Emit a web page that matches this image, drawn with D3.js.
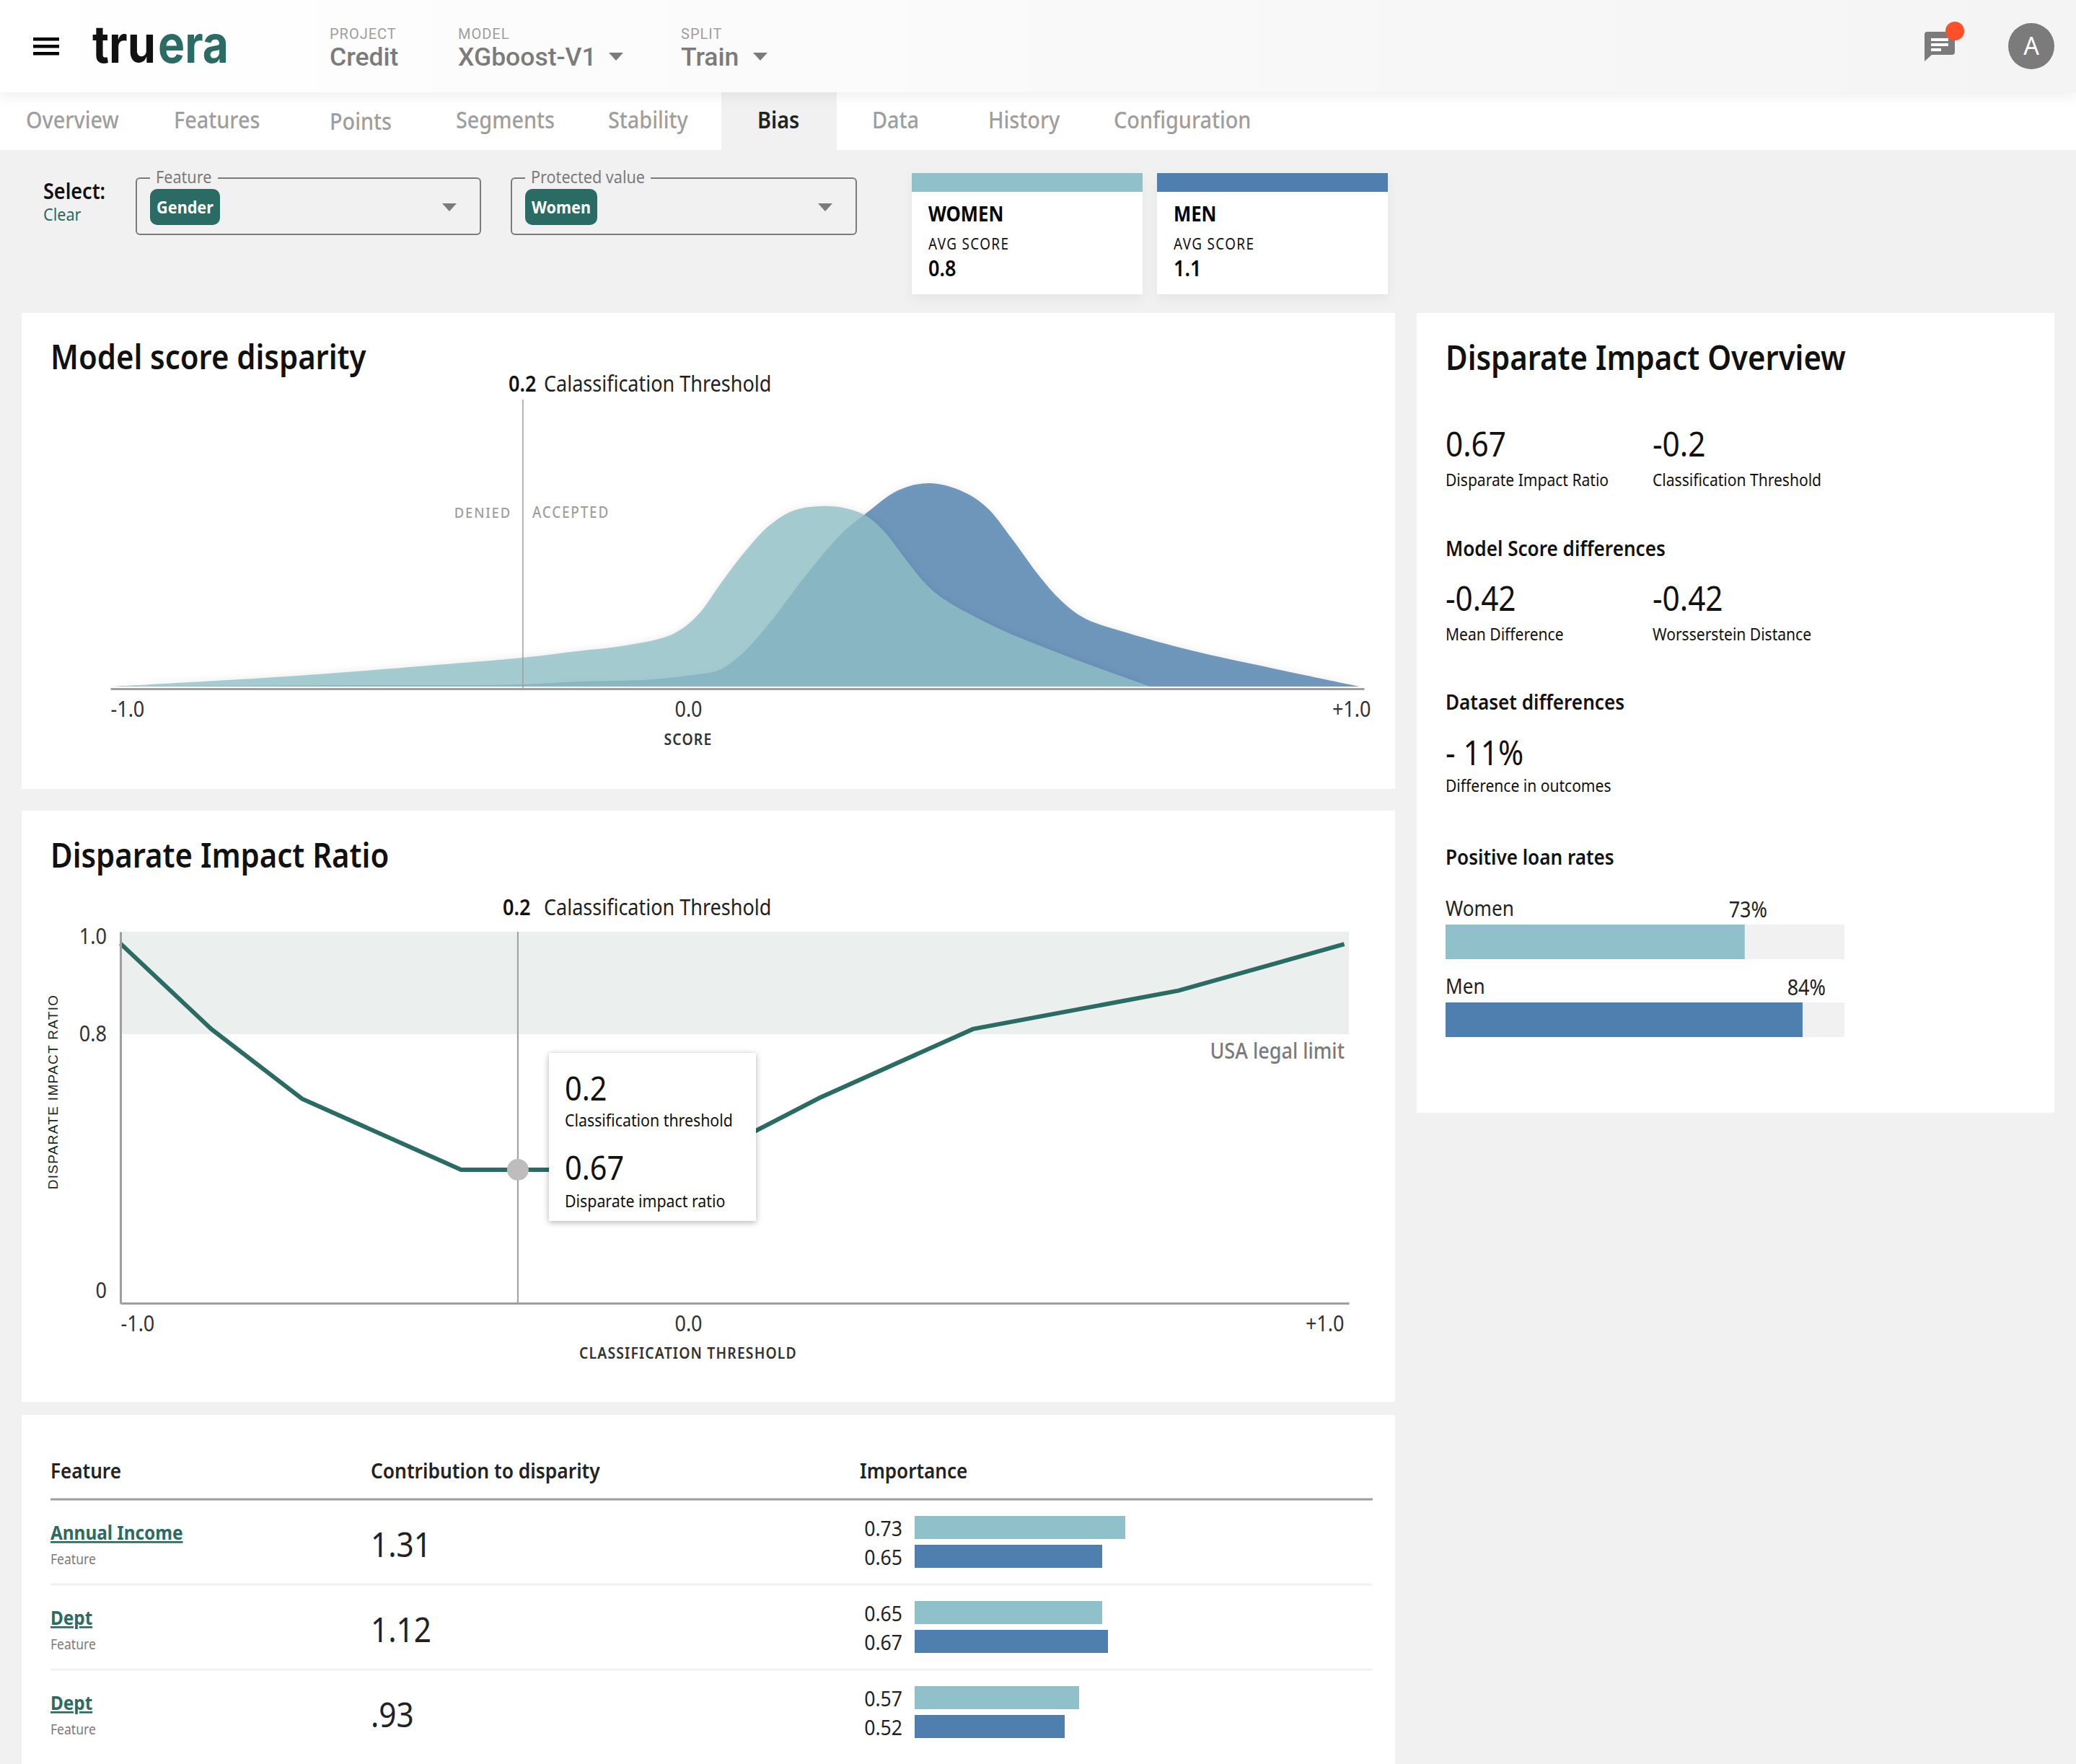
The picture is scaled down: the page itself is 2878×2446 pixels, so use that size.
<!DOCTYPE html>
<html>
<head>
<meta charset="utf-8">
<title>Bias</title>
<script src="https://cdn.jsdelivr.net/npm/d3@7/dist/d3.min.js"></script>
<style>
    html, body { margin: 0; padding: 0; background: #f1f1f1; }
    svg { display: block; }
    text { font-family: "Noto Sans", sans-serif; }
    .card { fill: #ffffff; }
    .axis path { stroke: #9e9e9e; stroke-width: 3; }
    .axis text { font-size: 30px; fill: #333333; font-family: "Noto Sans", sans-serif; }
</style>
</head>
<body>
<div id="svg-container"></div>
<script>

// Data.

var tabs = ["Overview", "Features", "Points", "Segments", "Stability", "Bias", "Data", "History", "Configuration"];

var scoreValues = [-1, -0.695, -0.389, -0.287, -0.192, -0.108, -0.026, 0.014, 0.049, 0.084, 0.121, 0.156, 0.199, 0.234, 0.263, 0.291, 0.319, 0.349, 0.374, 0.456, 0.552, 0.684];
var womenDensity = [0, 0.05, 0.117, 0.142, 0.174, 0.202, 0.259, 0.351, 0.511, 0.663, 0.794, 0.865, 0.887, 0.876, 0.84, 0.759, 0.638, 0.514, 0.44, 0.291, 0.16, 0];

var menScoreValues = [-1, -0.566, -0.287, -0.192, -0.067, 0.014, 0.046, 0.078, 0.121, 0.174, 0.227, 0.263, 0.311, 0.356, 0.402, 0.441, 0.479, 0.518, 0.552, 0.586, 0.648, 0.745, 0.866, 0.994];
var menDensity = [0, 0.007, 0.011, 0.025, 0.035, 0.06, 0.082, 0.156, 0.315, 0.546, 0.752, 0.851, 0.965, 1, 0.965, 0.883, 0.727, 0.55, 0.422, 0.337, 0.266, 0.177, 0.089, 0];

var scoreThreshold = -0.286;
var ratioThreshold = -0.3;

var axisTicks = [-1, 0, 1];
var axisTickLabels = ["-1.0", "0.0", "+1.0"];

var thresholdValues = [-1, -0.84, -0.68, -0.4, -0.014, 0.199, 0.431, 0.742, 0.993];
var impactRatios = [0.977, 0.81, 0.738, 0.67, 0.67, 0.739, 0.81, 0.885, 0.976];

var ratioTicks = [1, 0.8, 0];
var ratioTickLabels = ["1.0", "0.8", "0"];

var loanGroups = ["Women", "Men"];
var loanBars = [75, 89.5];
var loanLabels = ["73%", "84%"];

var features = ["Annual Income", "Dept", "Dept"];
var contributions = ["1.31", "1.12", ".93"];
var womenImportance = [0.73, 0.65, 0.57];
var menImportance = [0.65, 0.67, 0.52];

var teal = "#90c0c9",
    blue = "#4e7fae",
    green = "#2a6b63",
    gray = "#7b7b7b",
    lightGray = "#9e9e9e";

var width = 2878,
    height = 2446;

// Create the SVG Container.

var svg = d3.select("#svg-container")
    .append("svg")
    .attr("width", width)
    .attr("height", height);

var defs = svg.append("defs");

var headerGradient = defs.append("linearGradient")
    .attr("id", "header-gradient");
headerGradient.append("stop").attr("offset", "0%").attr("stop-color", "#ffffff");
headerGradient.append("stop").attr("offset", "100%").attr("stop-color", "#f4f4f4");

function addText(parent, x, y, str, size, color, weight, anchor) {
    return parent.append("text")
        .attr("class", "src")
        .attr("x", x)
        .attr("y", y)
        .attr("font-size", size)
        .attr("fill", color || "#111111")
        .attr("font-weight", weight || 400)
        .attr("text-anchor", anchor || "start")
        .text(str);
}

function addCaret(cx, top, w, h) {
    svg.append("path")
        .attr("d", "M" + (cx - w / 2) + "," + top + "L" + (cx + w / 2) + "," + top + "L" + cx + "," + (top + h) + "Z")
        .attr("fill", gray);
}

// Page background, tab bar and header.

svg.append("rect").attr("width", width).attr("height", height).attr("fill", "#f1f1f1");
svg.append("rect").attr("y", 128).attr("width", width).attr("height", 80).attr("fill", "#ffffff");
svg.append("rect").attr("x", 1000).attr("y", 128).attr("width", 160).attr("height", 80).attr("fill", "#f1f1f1");

svg.append("rect")
    .attr("width", width)
    .attr("height", 128)
    .attr("fill", "url(#header-gradient)")
    .style("filter", "drop-shadow(0 6px 8px rgba(0,0,0,0.06))");

[52, 62, 72].forEach(function(y) {
    svg.append("rect").attr("x", 46).attr("y", y).attr("width", 36).attr("height", 4.5).attr("fill", "#000000");
});

// The logo is two words so each half can be fitted to its width.

[["tru", 128, 88, "#111111"], ["era", 219, 98, green]].forEach(function(d) {
    svg.append("text")
        .attr("x", d[1])
        .attr("y", 87)
        .attr("font-size", 72)
        .attr("font-weight", 700)
        .attr("fill", d[3])
        .attr("textLength", d[2])
        .attr("lengthAdjust", "spacingAndGlyphs")
        .style("font-family", "Inter")
        .text(d[0]);
});

[["PROJECT", "Credit", 457], ["MODEL", "XGboost-V1", 635], ["SPLIT", "Train", 944]].forEach(function(d) {
    addText(svg, d[2], 54, d[0], 20, lightGray).style("letter-spacing", "1px").attr("class", "keep").style("font-family", "Roboto");
    addText(svg, d[2], 91, d[1], 35.5, gray, 500).attr("class", "keep").style("font-family", "Roboto");
});
addCaret(854, 73, 20, 11);
addCaret(1054, 73, 20, 11);

svg.append("path")
    .attr("d", "M2672,44H2706Q2710,44 2710,48V72Q2710,76 2706,76H2678L2668,85V48Q2668,44 2672,44Z")
    .attr("fill", gray);
[[2677, 53, 24], [2677, 60, 24], [2677, 67, 14]].forEach(function(d) {
    svg.append("rect").attr("x", d[0]).attr("y", d[1]).attr("width", d[2]).attr("height", 4).attr("fill", "#ffffff");
});
svg.append("circle").attr("cx", 2710).attr("cy", 43).attr("r", 13).attr("fill", "#ff5029");
svg.append("circle").attr("cx", 2816).attr("cy", 64).attr("r", 32).attr("fill", gray);
addText(svg, 2816, 76, "A", 34, "#ffffff", 400, "middle").attr("class", "keep");

var tabX = [36, 241, 457, 632, 843, 1050, 1209, 1370, 1544];
tabs.forEach(function(d, i) {
    addText(svg, tabX[i], d === "Points" ? 180 : 178, d, 32, d === "Bias" ? "#222222" : lightGray, d === "Bias" ? 600 : 500);
});

// Select row.

addText(svg, 60, 276, "Select:", 30, "#111111", 600);
addText(svg, 60, 306, "Clear", 24, green);

function addSelect(x, w, legend, legendEnd, chip, chipW) {
    svg.append("rect").attr("x", x).attr("y", 247).attr("width", w).attr("height", 78).attr("rx", 5)
        .attr("fill", "none").attr("stroke", gray).attr("stroke-width", 2);
    svg.append("rect").attr("x", x + 19).attr("y", 240).attr("width", legendEnd - x - 19).attr("height", 14).attr("fill", "#f1f1f1");
    addText(svg, x + 27, 254, legend, 24, gray);
    svg.append("rect").attr("x", x + 19).attr("y", 262).attr("width", chipW).attr("height", 50).attr("rx", 10).attr("fill", green);
    addText(svg, x + 19 + chipW / 2, 296, chip, 24, "#ffffff", 700, "middle");
    addCaret(x + w - 43, 282, 20, 11);
}
addSelect(189, 477, "Feature", 302, "Gender", 97);
addSelect(709, 478, "Protected value", 902, "Women", 100);

function addLegendCard(x, color, name, score) {
    svg.append("rect").attr("x", x).attr("y", 240).attr("width", 320).attr("height", 168).attr("fill", "#ffffff")
        .style("filter", "drop-shadow(0 6px 8px rgba(0,0,0,0.05))");
    svg.append("rect").attr("x", x).attr("y", 240).attr("width", 320).attr("height", 26).attr("fill", color);
    addText(svg, x + 23, 307, name, 28.5, "#000000", 700);
    addText(svg, x + 23, 346, "AVG SCORE", 21, "#111111").style("letter-spacing", "1.5px");
    addText(svg, x + 23, 383, score, 30, "#000000", 600);
}
addLegendCard(1264, teal, "WOMEN", "0.8");
addLegendCard(1604, blue, "MEN", "1.1");

// White panels.

var panels = [[30, 434, 1904, 660], [30, 1124, 1904, 820], [30, 1962, 1904, 484], [1964, 434, 884, 1109]];
svg.selectAll("rect.card")
    .data(panels)
    .enter().append("rect")
    .attr("class", "card")
    .attr("x", function(d) { return d[0]; })
    .attr("y", function(d) { return d[1]; })
    .attr("width", function(d) { return d[2]; })
    .attr("height", function(d) { return d[3]; });

// Model score disparity.

addText(svg, 70, 512, "Model score disparity", 46.5, "#111111", 600);
addText(svg, 705, 543, "0.2", 30, "#111111", 600);
addText(svg, 754, 543, "Calassification Threshold", 30, "#222222");

var scoreX = d3.scaleLinear().domain([-1, 0, 1]).range([153, 954, 1891]);
var densityY = d3.scaleLinear().domain([0, 1]).range([952, 670]);

var scoreArea = d3.area()
    .x(function(d) { return scoreX(d[0]); })
    .y0(densityY(0))
    .y1(function(d) { return densityY(d[1]); })
    .curve(d3.curveCatmullRom.alpha(0.5));

svg.append("path")
    .datum(d3.zip(menScoreValues, menDensity))
    .attr("d", scoreArea)
    .attr("fill", blue)
    .attr("fill-opacity", 0.8)
    .style("filter", "drop-shadow(0 -2px 5px rgba(0,0,0,0.08))");

svg.append("path")
    .datum(d3.zip(scoreValues, womenDensity))
    .attr("d", scoreArea)
    .attr("fill", "#90c0c7")
    .attr("fill-opacity", 0.8)
    .style("filter", "drop-shadow(0 -2px 5px rgba(0,0,0,0.08))");

svg.append("line")
    .attr("x1", scoreX(scoreThreshold))
    .attr("x2", scoreX(scoreThreshold))
    .attr("y1", 554)
    .attr("y2", 955)
    .attr("stroke", lightGray)
    .attr("stroke-width", 1.5);

addText(svg, 709, 718, "DENIED", 20.5, lightGray, 500, "end").style("letter-spacing", "2px");
addText(svg, 738, 718, "ACCEPTED", 21, lightGray, 500).style("letter-spacing", "2px");

function addXAxis(scale, y, title, titleY, titleSize) {
    var axis = svg.append("g")
        .attr("class", "axis")
        .attr("transform", "translate(0," + y + ")")
        .call(d3.axisBottom(scale)
            .tickValues(axisTicks)
            .tickFormat(function(d, i) { return axisTickLabels[i]; })
            .tickSize(0)
            .tickPadding(0)
            .tickSizeOuter(0));
    axis.selectAll(".tick text")
        .attr("class", "src")
        .attr("dy", 0)
        .attr("y", 39)
        .attr("text-anchor", function(d, i) { return ["start", "middle", "end"][i]; });
    axis.select(".domain").attr("stroke", lightGray);
    addText(svg, 954, titleY, title, titleSize, "#333333", 600, "middle").style("letter-spacing", "1.3px");
    return axis;
}

var scoreAxis = addXAxis(scoreX, 955, "SCORE", 1033, 21.5);
scoreAxis.selectAll(".tick text").attr("x", function(d) { return d === 1 ? 9 : 0; });

// Disparate impact ratio.

addText(svg, 70, 1203, "Disparate Impact Ratio", 46.5, "#111111", 600);
addText(svg, 697, 1269, "0.2", 30, "#111111", 600);
addText(svg, 754, 1269, "Calassification Threshold", 30, "#222222");

var thresholdX = d3.scaleLinear().domain([-1, 0, 1]).range([167, 954, 1870]);
var ratioY = d3.scaleLinear().domain([0, 0.67, 0.8, 1]).range([1807, 1622, 1434, 1292]);

svg.append("rect")
    .attr("x", thresholdX(-1))
    .attr("y", ratioY(1))
    .attr("width", thresholdX(1) - thresholdX(-1))
    .attr("height", ratioY(0.8) - ratioY(1))
    .attr("fill", "#ebf0ef");

svg.append("line")
    .attr("x1", thresholdX(ratioThreshold))
    .attr("x2", thresholdX(ratioThreshold))
    .attr("y1", ratioY(1))
    .attr("y2", ratioY(0))
    .attr("stroke", lightGray)
    .attr("stroke-width", 2);

var ratioLine = d3.line()
    .x(function(d) { return thresholdX(d[0]); })
    .y(function(d) { return ratioY(d[1]); });

svg.append("path")
    .datum(d3.zip(thresholdValues, impactRatios))
    .attr("d", ratioLine)
    .attr("fill", "none")
    .attr("stroke", green)
    .attr("stroke-width", 6);

svg.append("circle")
    .attr("cx", thresholdX(ratioThreshold))
    .attr("cy", ratioY(0.67))
    .attr("r", 15)
    .attr("fill", "#bdbdbd");

var ratioAxisX = addXAxis(thresholdX, 1807, "CLASSIFICATION THRESHOLD", 1884, 21.5);
ratioAxisX.selectAll(".tick text").attr("x", function(d) { return d === 1 ? -7 : 0; });

var ratioAxisY = svg.append("g")
    .attr("class", "axis")
    .attr("transform", "translate(" + thresholdX(-1) + ",0)")
    .call(d3.axisLeft(ratioY)
        .tickValues(ratioTicks)
        .tickFormat(function(d, i) { return ratioTickLabels[i]; })
        .tickSize(0)
        .tickPadding(19));
ratioAxisY.selectAll(".tick text")
    .attr("class", "src")
    .attr("dy", function(d) { return d === 1 ? "0.55em" : d === 0 ? "-0.25em" : "0.32em"; });
ratioAxisY.select(".domain").attr("stroke", lightGray);

svg.append("text")
    .attr("transform", "translate(80,1514) rotate(-90)")
    .attr("text-anchor", "middle")
    .attr("font-size", 19)
    .attr("font-weight", 400)
    .attr("fill", "#222222")
    .style("font-family", "Liberation Sans")
    .style("letter-spacing", "1.3px")
    .text("DISPARATE IMPACT RATIO");

addText(svg, 1864, 1468, "USA legal limit", 30, gray, 500, "end");

// Tooltip.

svg.append("rect")
    .attr("x", 761)
    .attr("y", 1460)
    .attr("width", 287)
    .attr("height", 233)
    .attr("fill", "#ffffff")
    .style("filter", "drop-shadow(0 2px 4px rgba(0,0,0,0.3))");
addText(svg, 783, 1526, "0.2", 46, "#111111");
addText(svg, 783, 1562, "Classification threshold", 23.7, "#111111");
addText(svg, 783, 1636, "0.67", 46, "#111111");
addText(svg, 783, 1674, "Disparate impact ratio", 23.7, "#111111");

// Disparate impact overview.

addText(svg, 2004, 513, "Disparate Impact Overview", 46.5, "#111111", 600);

function addStat(x, y, value, name, gap) {
    addText(svg, x, y, value, 47, "#111111");
    addText(svg, x, y + (gap || 41), name, 23.4, "#111111");
}
addStat(2004, 633, "0.67", "Disparate Impact Ratio");
addStat(2291, 633, "-0.2", "Classification Threshold");
addText(svg, 2004, 771, "Model Score differences", 29, "#111111", 600);
addStat(2004, 847, "-0.42", "Mean Difference");
addStat(2291, 847, "-0.42", "Worsserstein Distance");
addText(svg, 2004, 984, "Dataset differences", 29, "#111111", 600);
addStat(2004, 1061, "- 11%", "Difference in outcomes", 37);
addText(svg, 2004, 1199, "Positive loan rates", 29, "#111111", 600);

var loanX = d3.scaleLinear().domain([0, 100]).range([2004, 2557]);
var loanColors = [teal, blue];
var loanLabelEnd = [2450, 2531];

loanGroups.forEach(function(d, i) {
    var top = 1282 + i * 108;
    svg.append("rect").attr("x", loanX(0)).attr("y", top).attr("width", loanX(100) - loanX(0)).attr("height", 48).attr("fill", "#f1f1f1");
    svg.append("rect").attr("x", loanX(0)).attr("y", top).attr("width", loanX(loanBars[i]) - loanX(0)).attr("height", 48).attr("fill", loanColors[i]);
    addText(svg, 2004, top - 12, d, 29, "#222222");
    addText(svg, loanLabelEnd[i], top - 10, loanLabels[i], 30, "#222222", 400, "end");
});

// Feature table.

addText(svg, 70, 2050, "Feature", 29, "#222222", 600);
addText(svg, 514, 2050, "Contribution to disparity", 29.3, "#222222", 600);
addText(svg, 1192, 2050, "Importance", 29, "#222222", 600);

svg.append("line").attr("x1", 70).attr("x2", 1903).attr("y1", 2079).attr("y2", 2079).attr("stroke", lightGray).attr("stroke-width", 3);

var importanceX = d3.scaleLinear().domain([0, 1]).range([1268, 1668]);

features.forEach(function(d, i) {
    var rowTop = 118 * i;
    if (i > 0) {
        svg.append("line").attr("x1", 70).attr("x2", 1903).attr("y1", 2079 + rowTop).attr("y2", 2079 + rowTop).attr("stroke", "#f1f1f1").attr("stroke-width", 3);
    }
    addText(svg, 70, 2135 + rowTop, d, 27, green, 700).style("text-decoration", "underline");
    addText(svg, 70, 2169 + rowTop, "Feature", 19.5, gray);
    addText(svg, 514, 2159 + rowTop, contributions[i], 47, "#222222");

    [[womenImportance[i], teal, 2102], [menImportance[i], blue, 2142]].forEach(function(b) {
        svg.append("rect")
            .attr("x", importanceX(0))
            .attr("y", b[2] + rowTop)
            .attr("width", importanceX(b[0]) - importanceX(0))
            .attr("height", 32)
            .attr("fill", b[1]);
        addText(svg, 1251, b[2] + rowTop + 28, d3.format(".2f")(b[0]), 29.5, "#222222", 400, "end");
    });
});

// Noto is wider than the face in the picture, so squeeze the text a little.

svg.selectAll("text.src").each(function() {
    var node = d3.select(this);
    node.attr("textLength", this.getComputedTextLength() * 0.9)
        .attr("lengthAdjust", "spacingAndGlyphs");
});

</script>
</body>
</html>
